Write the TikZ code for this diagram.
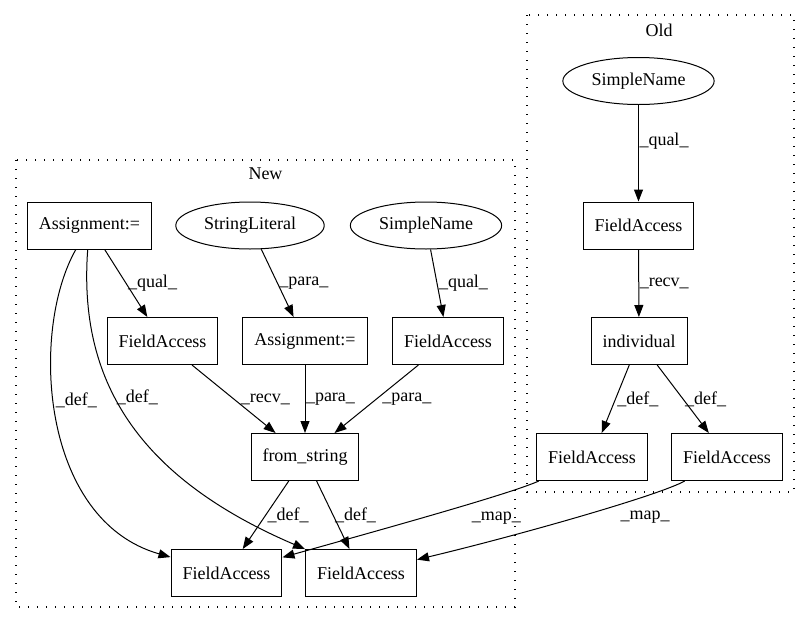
\documentclass[tikz,border=0pt]{standalone}
\usepackage{fontspec}
\setmainfont{Liberation Serif}
\usepackage{tikz}
\usetikzlibrary{arrows.meta, shapes.geometric, positioning}

\tikzset{
  txt/.style = {font=\fontsize{18}{20}\selectfont},
  box/.style = {txt, draw, line width=1pt, rectangle, minimum height=47pt, inner xsep=11.5pt},
  oval/.style = {txt, draw, line width=1pt, ellipse, minimum height=47pt, inner xsep=6.5pt, inner ysep=2pt},
  edge/.style = {-{Triangle[length=12pt,width=9pt]}, line width=1pt},
  lbl/.style = {txt, inner sep=1.5pt},
  cluster/.style = {line width=1.3pt, dash pattern=on 1.3pt off 7.7pt}
}

\begin{document}
\begin{tikzpicture}[x=1pt, y=-1pt]
	\useasboundingbox (0,0) rectangle (809,624);

	\draw[cluster] (16,160) rectangle (515,607);
	\node[lbl] (newTitle) at (265.5,174) {New};
	\draw[cluster] (527,15) rectangle (794,492);
	\node[lbl] (oldTitle) at (659,30) {Old};

	\node[box] (a1) at (89.5,225.5) {Assignment:=};
	\node[oval] (strLit) at (250,225.5) {StringLiteral};
	\node[oval] (snNew) at (426,225.5) {SimpleName};
	\node[box] (faQual) at (162.5,341) {FieldAccess};
	\node[box] (a2) at (305,341) {Assignment:=};
	\node[box] (faPara) at (448,341) {FieldAccess};
	\node[box] (fromStr) at (305,457) {from\_string};
	\node[box] (faDefA) at (226.5,573) {FieldAccess};
	\node[box] (faDefB) at (361,573) {FieldAccess};

	\node[oval] (snOld) at (638.5,81) {SimpleName};
	\node[box] (faOld) at (638.5,225.5) {FieldAccess};
	\node[box] (indiv) at (639,341) {individual};
	\node[box] (faOldA) at (592,457) {FieldAccess};
	\node[box] (faOldB) at (727,457) {FieldAccess};

	\draw[edge] (a1) -- node[lbl, right] (l1) {\_qual\_} (faQual);
	\draw[edge] (a1) .. controls (30,330) and (40,520) .. node[lbl, pos=0.45, anchor=west] (l2) {\_def\_} (faDefA);
	\draw[edge] (a1) .. controls (78,380) and (137,477) .. node[lbl, pos=0.42, anchor=west] (l3) {\_def\_} (faDefB);
	\draw[edge] (strLit) -- node[lbl, right] (l4) {\_para\_} (a2);
	\draw[edge] (snNew) -- node[lbl, right] (l5) {\_qual\_} (faPara);
	\draw[edge] (faQual) -- node[lbl, right, xshift=5pt] (l6) {\_recv\_} (fromStr);
	\draw[edge] (a2) -- node[lbl, right, xshift=-1pt] (l7) {\_para\_} (fromStr);
	\draw[edge] (faPara) -- node[lbl, right, xshift=4pt] (l8) {\_para\_} (fromStr);
	\draw[edge] (fromStr) -- node[lbl, right] (l9) {\_def\_} (faDefA);
	\draw[edge] (fromStr) -- node[lbl, right] (l10) {\_def\_} (faDefB);

	\draw[edge] (snOld) -- node[lbl, pos=0.37, right, xshift=-1pt] (l11) {\_qual\_} (faOld);
	\draw[edge] (faOld) -- node[lbl, right, xshift=-1pt] (l12) {\_recv\_} (indiv);
	\draw[edge] (indiv) -- node[lbl, right] (l13) {\_def\_} (faOldA);
	\draw[edge] (indiv) -- node[lbl, right] (l14) {\_def\_} (faOldB);

	\draw[edge] (faOldA) .. controls (510,494) and (380,530) .. node[lbl, pos=0.5, xshift=60pt, yshift=-4pt] (l15) {\_map\_} (faDefA);
	\draw[edge] (faOldB) .. controls (660,495) and (520,535) .. node[lbl, pos=0.5, xshift=65pt, yshift=-1pt] (l16) {\_map\_} (faDefB);
\end{tikzpicture}
\end{document}
